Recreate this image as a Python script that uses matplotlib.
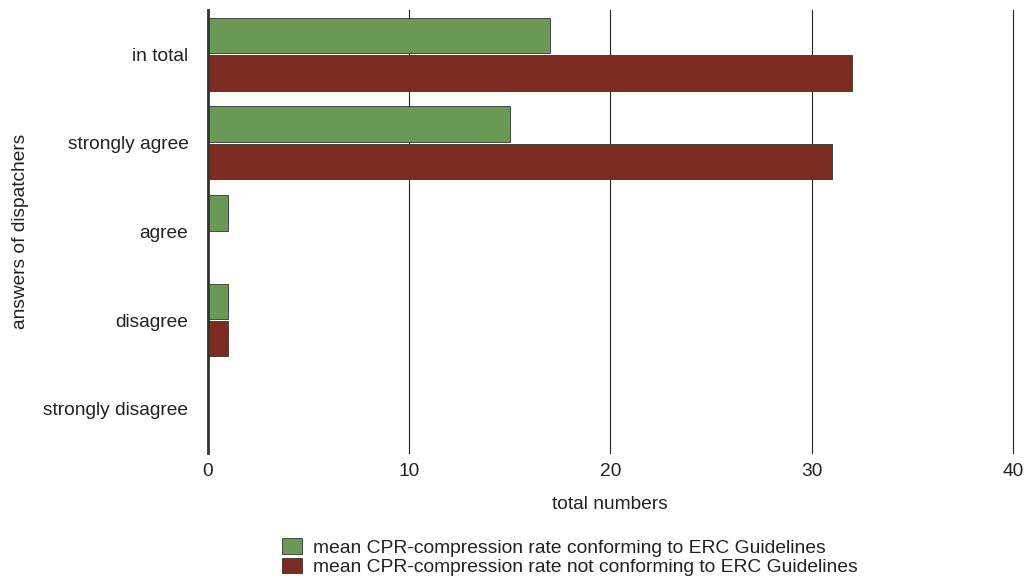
import numpy as np
import matplotlib
matplotlib.use("Agg")
import matplotlib.pyplot as plt

categories = ["in total", "strongly agree", "agree", "disagree", "strongly disagree"]
conforming = [17, 15, 1, 1, 0]
not_conforming = [32, 31, 0, 1, 0]
labels = ["mean CPR-compression rate conforming to ERC Guidelines",
          "mean CPR-compression rate not conforming to ERC Guidelines"]

plt.rcParams['font.family'] = ['Liberation Sans', 'DejaVu Sans']

fig = plt.figure(figsize=(10.24, 5.8), dpi=100)
ax = fig.add_axes([0.203, 0.219, 0.786, 0.764])

y = np.arange(len(categories))
h = 0.40
green = '#6a9955'
red = '#7c2b21'
ax.barh(y - h / 2 - 0.01, conforming, height=h, color=green, edgecolor='#333333', linewidth=0.6, label=labels[0])
ax.barh(y + h / 2 + 0.01, not_conforming, height=h, color=red, edgecolor='#333333', linewidth=0.6, label=labels[1])

ax.set_xlim(0, 40)
ax.set_ylim(len(categories) - 0.5, -0.5)
ax.set_xticks([0, 10, 20, 30, 40])
ax.set_yticks(y)
ax.set_yticklabels(categories, fontsize=13.8, color='#222222')
ax.tick_params(axis='x', labelsize=13.8, colors='#222222', length=0, pad=7)
ax.tick_params(axis='y', length=0, pad=14)
ax.xaxis.grid(True, color='#222222', linewidth=0.8)
for l in ax.get_xgridlines():
    l.set_clip_on(False)
ax.set_axisbelow(True)
for s in ['top', 'right', 'bottom']:
    ax.spines[s].set_visible(False)
ax.spines['left'].set_linewidth(2)
ax.spines['left'].set_color('#333333')

ax.set_xlabel('total numbers', fontsize=13.8, color='#222222', labelpad=12)
ax.set_ylabel('answers of dispatchers', fontsize=13.8, color='#222222')
ax.yaxis.set_label_coords(-0.222, 0.5)

leg = fig.legend(loc='upper left', bbox_to_anchor=(282 / 1024, 1 - 538 / 580), frameon=False, fontsize=13.85,
                 borderpad=0, borderaxespad=0, handlelength=1.04, handleheight=0.88,
                 handletextpad=0.57, labelspacing=0.06)
for t in leg.get_texts():
    t.set_color('#222222')

fig.savefig('out.png', dpi=100)
